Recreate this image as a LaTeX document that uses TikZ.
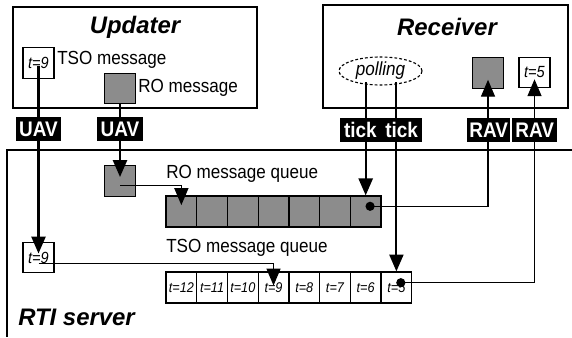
\documentclass[tikz,border=0pt]{standalone}
\usepackage{fontspec}
\setmainfont{Liberation Sans}[FakeStretch=0.9]
\newfontfamily\headfont{Liberation Sans}
\usetikzlibrary{positioning, arrows.meta, calc, shapes.geometric}

\begin{document}
\begin{tikzpicture}[
        panel/.style={draw, line width=0.9pt, inner sep=0pt},
        msg/.style={draw, line width=0.9pt, minimum width=7.75mm, minimum height=7.6mm, inner sep=0pt, font=\fontsize{11.5}{12}\selectfont\itshape},
        romsg/.style={msg, fill=black!45},
        cell/.style={draw, line width=0.9pt, minimum width=7.68mm, minimum height=7.75mm, inner sep=0pt, font=\fontsize{10}{11}\selectfont\itshape},
        rocell/.style={cell, fill=black!45},
        tag/.style={fill=black, text=white, font=\fontsize{15}{16}\selectfont\bfseries, inner sep=0pt, minimum height=6.2mm},
        head/.style={font=\headfont\fontsize{17}{18}\selectfont\bfseries\itshape},
        txt/.style={font=\fontsize{13.5}{14}\selectfont, inner sep=0pt, anchor=base west},
        arr/.style={-{Triangle[length=12pt,width=10pt]}, line width=1.5pt},
        link/.style={-{Triangle[length=12pt,width=10pt]}, line width=0.75pt},
        dot/.style={circle, fill=black, inner sep=0pt, minimum size=2.3mm},
    ]
    \useasboundingbox (0,0) rectangle (14.3, 8.425);

    % Updater:
    \node[panel, minimum width=61mm, minimum height=25.25mm] (upd) at (3.375, 6.9875) {};
    \node[head] (updtitle) at (3.375, 7.75) {Updater};
    \node[msg] (t9upd) at (0.9625, 6.85) {t=9};
    \node[txt] (tsolbl) at (1.425, 6.8) {TSO message};
    \node[romsg] (roupd) at (3.0, 6.2125) {};
    \node[txt] (rolbl) at (3.45, 6.1) {RO message};

    % Receiver:
    \node[panel, minimum width=61.25mm, minimum height=25.75mm] (rcv) at (11.1375, 7.0125) {};
    \node[head] (rcvtitle) at (11.175, 7.75) {Receiver};
    \node[draw, dash pattern=on 2pt off 1.5pt, ellipse, line width=0.8pt, minimum width=20.75mm, minimum height=7mm, inner sep=0pt,
          font=\fontsize{13.5}{14}\selectfont\itshape] (poll) at (9.5125, 6.65) {polling};
    \node[romsg] (rcvro) at (12.2, 6.6) {};
    \node[msg] (t5) at (13.3625, 6.6125) {t=5};

    % RTI server, open to the right and below:
    \draw[line width=0.9pt] (14.3, 4.675) -- (0.175, 4.675) -- (0.175, 0);
    \node[head, anchor=base west, inner sep=0pt] (rti) at (0.45, 0.3) {RTI server};

    % Queues:
    \node[romsg] (rosrv) at (3.0, 3.9) {};
    \node[txt] (roqlbl) at (4.15, 3.975) {RO message queue};
    \foreach \i in {1,...,7}
        \node[rocell] (ro\i) at ({4.15+(\i-0.5)*0.768}, 3.1375) {};
    \node[msg] (t9srv) at (0.9625, 1.9875) {t=9};
    \node[txt] (tsoqlbl) at (4.15, 2.125) {TSO message queue};
    \foreach \i [evaluate=\i as \t using int(13-\i)] in {1,...,8}
        \node[cell] (tso\i) at ({4.15+(\i-0.5)*0.768}, 1.2375) {t=\t};

    % Messages from the updater into the server:
    \draw[arr] ($(t9upd)+(0,-0.08)$) -- ($(t9srv)+(0,0.1)$);
    \draw[arr] (roupd) -- ($(rosrv)+(0,0.1)$);
    \draw[link] ($(rosrv)+(0,-0.12)$) -| ($(ro1)+(0,0.16)$);
    \draw[link] ($(t9srv)+(0,-0.14)$) -| ($(tso4)+(0,0.05)$);

    % Polling ticks down to the heads of the queues:
    \draw[arr] ($(ro7 |- poll.south)+(0,0.08)$) -- (ro7.north);
    \draw[arr] ($(tso8 |- poll.south)+(0,0.08)$) -- (tso8.north);

    % Delivery back to the receiver:
    \node[dot] (rodot) at ($(ro7)+(0.11,0.13)$) {};
    \node[dot] (tsodot) at ($(tso8)+(0.11,0.12)$) {};
    \draw[link] (rodot.center) -| ($(rcvro)+(0,-0.17)$);
    \draw[link] (tsodot.center) -| ($(t5)+(0,-0.17)$);

    % Labels on the calls:
    \node[tag, minimum width=11.25mm] (uav1) at (t9upd |- 0,5.2) {UAV};
    \node[tag, minimum width=11.5mm] (uav2) at (roupd |- 0,5.2) {UAV};
    \node[tag, minimum width=10.3mm] (tick1) at (9.01, 5.175) {tick};
    \node[tag, minimum width=10.3mm] (tick2) at (10.04, 5.175) {tick};
    \node[tag, minimum width=10.8mm] (rav1) at (12.22, 5.175) {RAV};
    \node[tag, minimum width=11.3mm] (rav2) at (13.37, 5.175) {RAV};
\end{tikzpicture}
\end{document}
